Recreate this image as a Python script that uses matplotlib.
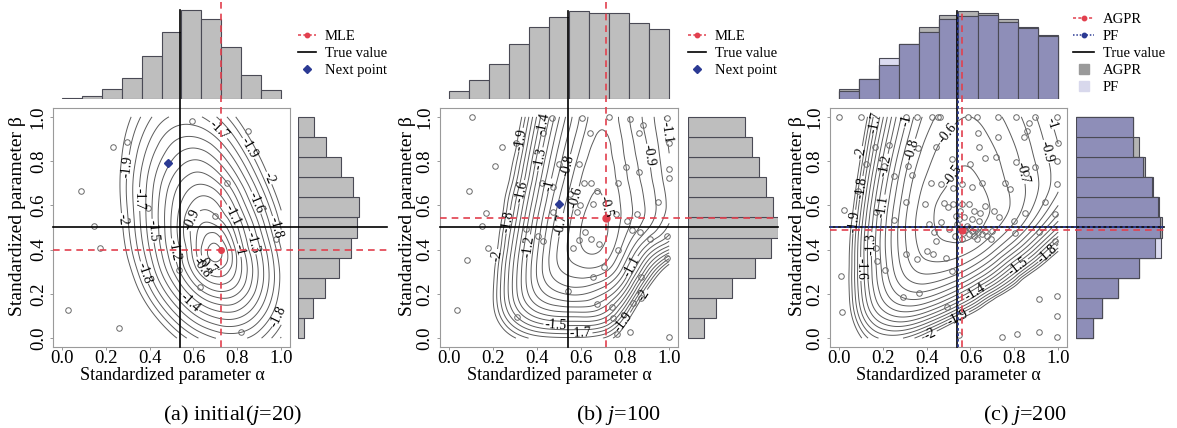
import numpy as np
import matplotlib
matplotlib.use("Agg")
import matplotlib.pyplot as plt
import matplotlib.tri as mtri
from matplotlib.lines import Line2D
from matplotlib.transforms import blended_transform_factory

plt.rcParams['font.family'] = ['Liberation Serif', 'DejaVu Serif']
plt.rcParams['mathtext.fontset'] = 'custom'
plt.rcParams['mathtext.rm'] = 'Liberation Serif'
plt.rcParams['mathtext.it'] = 'Liberation Serif:italic'

W, H = 1177, 428
RED = '#e2404e'
BLUE = '#2b3a94'

# histogram heights (arbitrary units, 11 bins on [0, 1])
a_hist_alpha = [3, 8, 29, 64, 129, 201, 267, 239, 156, 73, 28]
a_hist_beta = [19, 44, 80, 124, 159, 177, 182, 164, 129, 84, 47]
b_hist_alpha = [23, 56, 105, 166, 215, 247, 264, 259, 257, 229, 211]
b_hist_beta = [47, 84, 132, 200, 250, 270, 254, 234, 212, 192, 172]
c_hist_alpha_agpr = [30, 60, 102, 166, 215, 252, 265, 258, 240, 216, 193]
c_hist_alpha_pf = [25, 60, 122, 166, 200, 240, 250, 252, 232, 212, 189]
c_hist_beta_agpr = [50, 77, 127, 188, 237, 257, 249, 230, 207, 189, 172]
c_hist_beta_pf = [50, 77, 127, 188, 255, 252, 245, 227, 202, 170, 172]

# sampled points
a_alpha = [0.593, 0.850, 0.233, 0.297, 0.086, 0.395, 0.753, 0.699, 0.145, 0.173,
           0.976, 0.533, 0.630, 0.029, 0.262, 0.817, 0.483]
a_beta = [0.982, 0.935, 0.866, 0.885, 0.664, 0.587, 0.701, 0.551, 0.507, 0.407,
          0.448, 0.308, 0.232, 0.127, 0.048, 0.026, 0.790]

b_alpha = [0.103, 0.470, 0.603, 0.729, 0.820, 0.992, 0.303, 0.429, 0.641, 0.880,
           0.861, 1.000, 0.242, 0.209, 0.500, 0.592, 0.805, 0.861, 1.000, 0.092,
           0.423, 0.471, 0.614, 0.645, 0.770, 0.671, 0.550, 0.595, 0.653, 0.168,
           0.474, 0.580, 0.759, 0.853, 0.152, 0.350, 0.808, 0.406, 0.618, 0.644,
           0.592, 0.833, 0.868, 0.914, 0.989, 0.179, 0.429, 0.562, 0.682, 0.770,
           0.083, 0.702, 0.656, 0.871, 0.989, 0.035, 0.542, 0.671, 0.742, 0.838,
           0.871, 0.762, 0.823, 1.000, 0.308, 0.744, 1.000, 0.948]
b_beta = [1.000, 0.997, 0.997, 1.000, 0.989, 0.994, 0.884, 0.925, 0.929, 0.964,
          0.929, 0.884, 0.865, 0.776, 0.786, 0.786, 0.774, 0.752, 0.764, 0.663,
          0.699, 0.681, 0.702, 0.702, 0.702, 0.663, 0.651, 0.603, 0.606, 0.567,
          0.568, 0.571, 0.561, 0.561, 0.507, 0.493, 0.528, 0.463, 0.478, 0.448,
          0.444, 0.489, 0.481, 0.447, 0.463, 0.408, 0.438, 0.408, 0.426, 0.400,
          0.353, 0.323, 0.275, 0.275, 0.361, 0.128, 0.215, 0.155, 0.143, 0.158,
          0.182, 0.020, 0.027, 0.005, 0.095, 0.090, 0.724, 0.615]

c_alpha = [0.002, 0.100, 0.308, 0.358, 0.426, 0.453, 0.459, 0.589, 0.630, 0.724, 0.808, 0.895, 0.994,
           0.858, 0.865, 0.842, 0.724, 0.635, 0.997, 0.165, 0.229, 0.362, 0.445, 0.638,
           0.126, 0.206, 0.317, 0.514, 0.600, 0.668, 0.718, 0.809, 0.895, 0.994,
           0.089, 0.252, 0.332, 0.418, 0.464, 0.521, 0.562, 0.608, 0.653, 0.759, 0.782, 0.855, 0.994,
           0.305, 0.391, 0.479, 0.497, 0.521, 0.552, 0.562, 0.592, 0.615, 0.642, 0.665, 0.706,
           0.024, 0.168, 0.252, 0.532, 0.570, 0.608, 0.638, 0.729, 0.797, 0.850, 0.941, 0.986,
           0.464, 0.411, 0.433, 0.502, 0.676, 0.694, 0.802, 0.911, 0.986,
           0.009, 0.168, 0.305, 0.403, 0.441, 0.176, 0.211, 0.358, 0.429, 0.489, 0.514,
           0.014, 0.365, 0.292, 0.494, 0.911, 0.994, 0.994, 0.547, 0.744, 0.812, 0.911, 0.994,
           0.555, 0.577, 0.595, 0.608, 0.623, 0.635, 0.653, 0.665, 0.592, 0.615, 0.565, 0.585,
           0.539, 0.547, 0.529, 0.562, 0.630, 0.698]
c_beta = [1.000, 1.000, 1.000, 1.000, 1.000, 1.000, 1.000, 1.000, 1.000, 1.000, 1.000, 1.000, 1.000,
          0.937, 0.970, 0.907, 0.911, 0.925, 0.880, 0.865, 0.872, 0.859, 0.862, 0.865,
          0.789, 0.776, 0.779, 0.809, 0.786, 0.814, 0.817, 0.797, 0.774, 0.799,
          0.663, 0.734, 0.738, 0.699, 0.696, 0.678, 0.696, 0.684, 0.699, 0.702, 0.674, 0.747, 0.696,
          0.617, 0.606, 0.609, 0.591, 0.606, 0.576, 0.606, 0.606, 0.576, 0.565, 0.598, 0.573,
          0.579, 0.568, 0.534, 0.553, 0.549, 0.538, 0.528, 0.549, 0.528, 0.564, 0.614, 0.561,
          0.523, 0.516, 0.478, 0.493, 0.463, 0.448, 0.474, 0.478, 0.441,
          0.283, 0.408, 0.380, 0.395, 0.441, 0.347, 0.308, 0.358, 0.380, 0.362, 0.305,
          0.117, 0.203, 0.188, 0.140, 0.177, 0.192, 0.102, 0.012, 0.005, 0.020, 0.027, 0.005,
          0.493, 0.489, 0.498, 0.486, 0.493, 0.478, 0.471, 0.486, 0.471, 0.463, 0.474, 0.508,
          0.516, 0.538, 0.463, 0.448, 0.448, 0.486]

# estimates and true values
true_alpha, true_beta = 0.540, 0.501
a_mle = (0.726, 0.397)
a_next = (0.483, 0.790)
b_mle = (0.715, 0.543)
b_next = (0.500, 0.606)
c_agpr = (0.560, 0.489)
c_pf = (0.545, 0.504)

# log-likelihood surfaces, in hundredths (value = -n / 100)
# rows: beta = 0.0 ... 1.0, columns: alpha = 0.0 ... 1.0
grid_alpha = [0.0, 0.1, 0.2, 0.3, 0.4, 0.5, 0.6, 0.7, 0.8, 0.9, 1.0]
grid_beta = [0.0, 0.1, 0.2, 0.3, 0.4, 0.5, 0.6, 0.7, 0.8, 0.9, 1.0]
a_surface = [
    [350, 329, 295, 263, 233, 206, 184, 170, 167, 178, 201],
    [345, 310, 275, 241, 208, 178, 153, 138, 137, 155, 184],
    [330, 294, 257, 221, 186, 153, 124, 105, 110, 138, 175],
    [318, 281, 244, 207, 170, 133, 98, 73, 93, 132, 173],
    [310, 272, 235, 197, 160, 123, 86, 56, 95, 138, 180],
    [303, 266, 229, 192, 155, 119, 86, 77, 109, 149, 191],
    [298, 261, 225, 189, 154, 121, 97, 97, 126, 163, 203],
    [294, 258, 223, 188, 156, 128, 112, 117, 144, 179, 218],
    [292, 257, 223, 191, 162, 140, 129, 138, 163, 196, 233],
    [292, 258, 226, 196, 171, 153, 148, 158, 182, 214, 249],
    [293, 261, 231, 204, 182, 169, 167, 179, 202, 232, 266],
]
b_surface = [
    [350, 287, 234, 201, 186, 182, 182, 190, 225, 300, 350],
    [350, 271, 207, 162, 137, 129, 128, 135, 180, 260, 330],
    [350, 272, 201, 145, 108, 92, 89, 100, 135, 210, 280],
    [350, 280, 205, 145, 99, 72, 64, 68, 100, 160, 225],
    [350, 292, 215, 151, 102, 68, 51, 51, 78, 118, 150],
    [350, 305, 225, 160, 108, 72, 50, 47, 66, 88, 113],
    [350, 320, 238, 170, 117, 78, 54, 49, 64, 82, 103],
    [350, 336, 252, 183, 127, 86, 59, 52, 67, 85, 106],
    [350, 350, 267, 195, 137, 94, 65, 55, 70, 88, 109],
    [350, 350, 282, 208, 148, 102, 72, 58, 73, 91, 112],
    [350, 350, 297, 221, 159, 111, 78, 62, 76, 94, 115],
]
c_surface = [
    [258, 202, 178, 181, 207, 251, 306, 350, 350, 350, 350],
    [243, 175, 138, 128, 140, 168, 208, 264, 335, 350, 350],
    [239, 163, 116, 95, 94, 109, 136, 177, 232, 301, 350],
    [240, 160, 108, 78, 68, 72, 87, 115, 156, 209, 275],
    [243, 160, 105, 72, 56, 53, 58, 76, 105, 144, 195],
    [251, 164, 106, 71, 53, 47, 46, 56, 74, 103, 141],
    [264, 173, 111, 74, 54, 47, 46, 51, 63, 83, 110],
    [279, 184, 119, 79, 58, 50, 48, 54, 64, 78, 97],
    [296, 197, 129, 86, 63, 53, 51, 57, 67, 81, 97],
    [315, 211, 140, 95, 69, 58, 55, 61, 71, 85, 101],
    [334, 227, 152, 104, 76, 64, 60, 66, 76, 90, 106],
]

levels = np.round(np.arange(-2.0, -0.45, 0.1), 1)
bin_edges = np.linspace(0, 1, 12)
bin_w = 1 / 11
GA, GB = np.meshgrid(grid_alpha, grid_beta)

fig = plt.figure(figsize=(W / 100, H / 100), dpi=100)


def px_axes(x0, x1, y0, y1):
    return fig.add_axes([x0 / W, 1 - y1 / H, (x1 - x0) / W, (y1 - y0) / H])


def draw_contours(ax, z):
    tri = mtri.Triangulation(GA.ravel(), GB.ravel())
    zz = -np.asarray(z, dtype=float).ravel() / 100
    tri_f, z_f = mtri.UniformTriRefiner(tri).refine_field(zz, subdiv=4)
    cs = ax.tricontour(tri_f, z_f, levels=levels, colors='#5c5c5c', linewidths=0.7,
                       linestyles='solid')
    ax.clabel(cs, fmt='%g', fontsize=10, inline=True, inline_spacing=1, colors='black')


def main_axes(x0, x1):
    ax = px_axes(x0, x1, 108, 347)
    ax.set_xlim(-0.04, 1.04)
    ax.set_ylim(-0.04, 1.04)
    ticks = [0.0, 0.2, 0.4, 0.6, 0.8, 1.0]
    ax.set_xticks(ticks)
    ax.set_yticks(ticks)
    ax.set_xticklabels(['%.1f' % t for t in ticks])
    ax.set_yticklabels(['%.1f' % t for t in ticks], rotation=90, va='center')
    ax.tick_params(length=2.5, width=0.6, color='#888888', labelsize=13.5)
    ax.tick_params(axis='x', pad=0)
    ax.tick_params(axis='y', pad=2)
    for s in ax.spines.values():
        s.set_color('#9a9a9a')
        s.set_linewidth(0.8)
    return ax


def top_hist(x0, x1, heights, colors):
    ax = px_axes(x0, x1, 0, 99)
    ax.set_xlim(-0.04, 1.04)
    ax.set_ylim(0, 297)
    for h, c in zip(heights, colors):
        ax.bar(bin_edges[:-1], h, width=bin_w, align='edge', color=c,
               edgecolor='#4a4a55', linewidth=0.8)
    ax.axis('off')
    return ax


def right_hist(x0, x1, lengths, colors):
    ax = px_axes(x0, x1, 108, 347)
    ax.set_ylim(-0.04, 1.04)
    ax.set_xlim(0, 3 * (x1 - x0))
    for l, c in zip(lengths, colors):
        ax.barh(bin_edges[:-1], l, height=bin_w, align='edge', color=c,
                edgecolor='#4a4a55', linewidth=0.8)
    ax.axis('off')
    return ax


def vline(ax, a, top_px, **kw):
    tr = blended_transform_factory(ax.transData, fig.transFigure)
    fig.add_artist(Line2D([a, a], [1 - 347 / H, 1 - top_px / H], transform=tr, **kw))


def hline(ax, b, x0, x1, **kw):
    tr = blended_transform_factory(fig.transFigure, ax.transData)
    fig.add_artist(Line2D([x0 / W, x1 / W], [b, b], transform=tr, **kw))


def labels(xc, ylab_x):
    fig.text(xc / W, 1 - 376 / H, 'Standardized parameter α', ha='center', va='center', fontsize=13)
    fig.text(ylab_x / W, 1 - 216 / H, 'Standardized parameter β', ha='center', va='center',
             fontsize=14, rotation=90)


dash = (0, (4, 3))
solid_k = dict(color='black', lw=1.2)
red_d = dict(color=RED, lw=1.2, ls=dash)
blue_d = dict(color=BLUE, lw=1.3, ls=(0, (1.5, 1.5)))
pt_style = dict(ls='none', marker='o', mfc='none', mec='#6a6a6a', ms=4, mew=0.7)
gray = '#bebebe'

# ---------------- panel (a) ----------------
ax = main_axes(53, 290)
draw_contours(ax, a_surface)
ax.plot(a_alpha, a_beta, **pt_style)
ax.plot(*a_mle, 'o', color=RED, ms=4)
ax.plot(*a_next, 'D', color=BLUE, ms=4.5)
top_hist(53, 290, [a_hist_alpha], [gray])
right_hist(298, 387, [a_hist_beta], [gray])
vline(ax, true_alpha, 99 - max(a_hist_alpha) / 3, **solid_k)
vline(ax, a_mle[0], 0, **red_d)
hline(ax, true_beta, 53, 387, **solid_k)
hline(ax, a_mle[1], 53, 387, **red_d)
labels(172, 18)

# ---------------- panel (b) ----------------
ax = main_axes(440, 678)
draw_contours(ax, b_surface)
ax.plot(b_alpha, b_beta, **pt_style)
ax.plot(*b_mle, 'o', color=RED, ms=5)
ax.plot(*b_next, 'D', color=BLUE, ms=4.5)
top_hist(440, 678, [b_hist_alpha], [gray])
right_hist(688, 778, [b_hist_beta], [gray])
vline(ax, true_alpha, 99 - max(b_hist_alpha) / 3, **solid_k)
vline(ax, b_mle[0], 0, **red_d)
hline(ax, true_beta, 440, 778, **solid_k)
hline(ax, b_mle[1], 440, 778, **red_d)
labels(559, 407)

# ---------------- panel (c) ----------------
ax = main_axes(830, 1067)
draw_contours(ax, c_surface)
ax.plot(c_alpha, c_beta, **pt_style)
ax.plot(*c_agpr, 'o', color=RED, ms=5)
purple = '#8e8eb8'
top_hist(830, 1067, [c_hist_alpha_agpr, c_hist_alpha_pf,
                     np.minimum(c_hist_alpha_agpr, c_hist_alpha_pf)],
         ['#b4b4b4', '#dcdcf0', purple])
right_hist(1076, 1164, [c_hist_beta_agpr, c_hist_beta_pf,
                        np.minimum(c_hist_beta_agpr, c_hist_beta_pf)],
           ['#b4b4b4', '#dcdcf0', purple])
top_c = 99 - max(c_hist_alpha_agpr) / 3
vline(ax, true_alpha, top_c, **solid_k)
vline(ax, c_pf[0], top_c, **blue_d)
vline(ax, c_agpr[0], top_c, **red_d)
hline(ax, true_beta, 830, 1164, **solid_k)
hline(ax, c_pf[1], 830, 1164, **blue_d)
hline(ax, c_agpr[1], 830, 1164, **red_d)
labels(948, 797)

# ---------------- legends ----------------
leg_kw = dict(loc='upper left', frameon=False, fontsize=10.5, handlelength=1.25,
              handletextpad=0.6, labelspacing=0.25, borderpad=0, borderaxespad=0)
h_mle = Line2D([], [], color=RED, lw=1.1, ls=(0, (2, 1.5)), marker='o', ms=3.2)
h_true = Line2D([], [], color='black', lw=1.2)
h_next = Line2D([], [], ls='none', color=BLUE, marker='D', ms=4)
for x in (298, 688):
    fig.legend([h_mle, h_true, h_next], ['MLE', 'True value', 'Next point'],
               bbox_to_anchor=(x / W, 1 - 30 / H), **leg_kw)
h_pf = Line2D([], [], color=BLUE, lw=1.1, ls=(0, (1, 1.2)), marker='o', ms=3.2)
h_sq1 = Line2D([], [], ls='none', marker='s', color='#9a9a9a', ms=7)
h_sq2 = Line2D([], [], ls='none', marker='s', color='#d8d8ec', ms=7)
fig.legend([h_mle, h_pf, h_true, h_sq1, h_sq2], ['AGPR', 'PF', 'True value', 'AGPR', 'PF'],
           bbox_to_anchor=(1073 / W, 1 - 13 / H), **dict(leg_kw, handlelength=1.45))

# ---------------- captions ----------------
fig.text(233 / W, 1 - 415 / H, '(a) initial($j$=20)', ha='center', va='center', fontsize=16)
fig.text(618 / W, 1 - 415 / H, '(b) $j$=100', ha='center', va='center', fontsize=16)
fig.text(1025 / W, 1 - 415 / H, '(c) $j$=200', ha='center', va='center', fontsize=16)

fig.savefig('out.png', dpi=100)
